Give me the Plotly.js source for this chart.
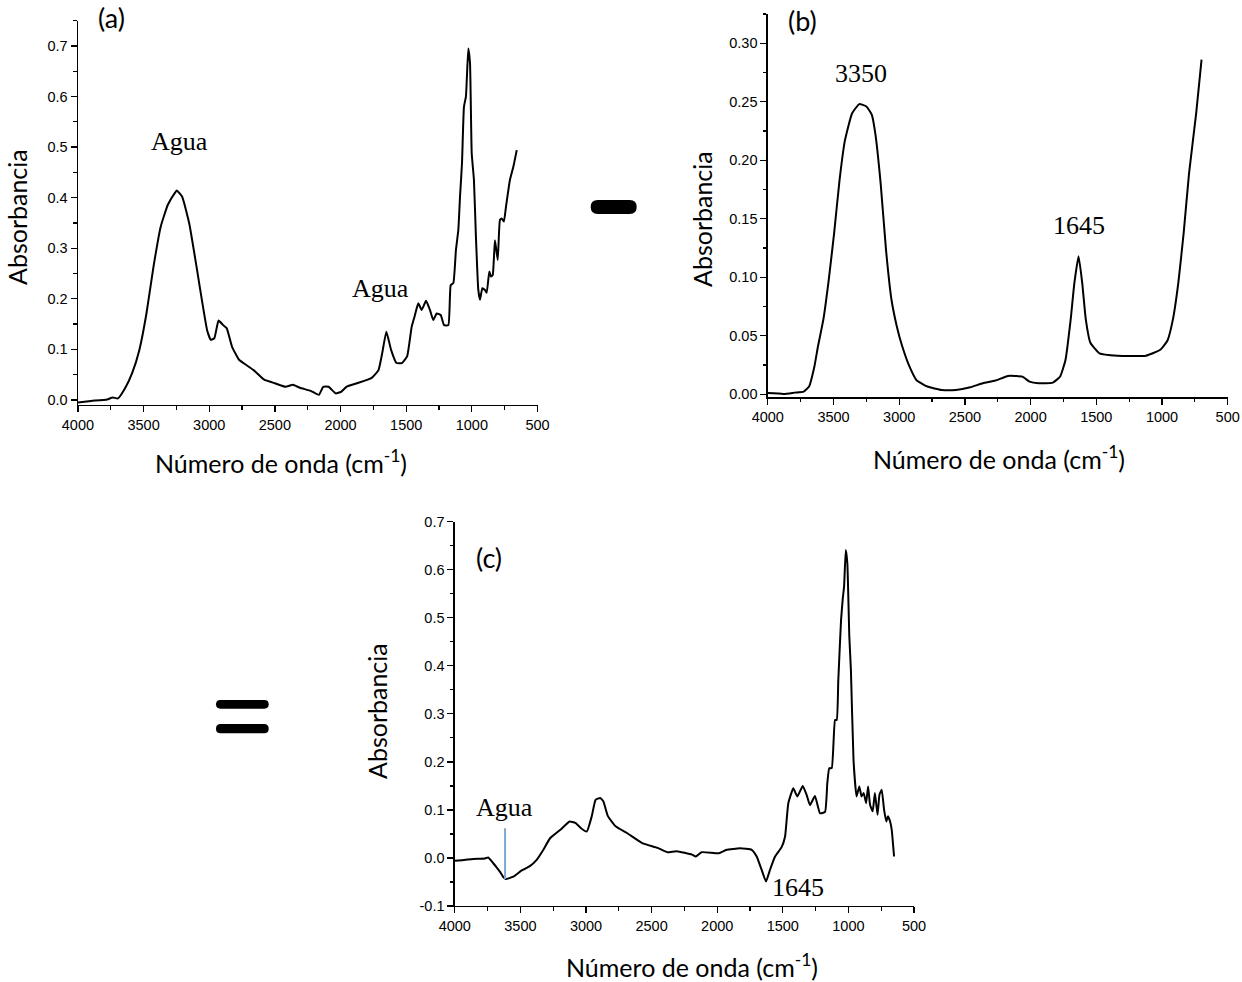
<!DOCTYPE html>
<html>
<head>
<meta charset="utf-8">
<script src="https://cdn.plot.ly/plotly-3.0.1.min.js"></script>
<style>
  html, body { margin: 0; padding: 0; background: #fff; }
  #chart { width: 1242px; height: 982px; }
</style>
</head>
<body>
<div id="chart"></div>
<script>
// (a) sample spectrum
const waveA = [4000, 3900, 3777, 3736, 3695, 3641, 3587, 3532, 3478, 3424, 3369, 3315, 3260, 3247, 3206, 3152,
  3097, 3056, 3016, 2988, 2961, 2929, 2894, 2867, 2826, 2771, 2717, 2662, 2581, 2500, 2418, 2363, 2309, 2227,
  2165, 2132, 2091, 2037, 1996, 1955, 1874, 1765, 1711, 1683, 1651, 1615, 1574, 1533, 1493, 1458, 1433, 1408,
  1382, 1349, 1319, 1294, 1268, 1237, 1212, 1179, 1161, 1141, 1121, 1103, 1090, 1075, 1060, 1045, 1027, 1014,
  1001, 984, 969, 951, 938, 920, 902, 887, 867, 854, 841, 824, 803, 786, 773, 756, 740, 722, 710, 684, 658];
const absA = [-0.005, -0.002, 0.001, 0.005, 0.003, 0.023, 0.053, 0.099, 0.171, 0.264, 0.343, 0.386, 0.410, 0.414, 0.402, 0.349,
  0.264, 0.198, 0.138, 0.119, 0.122, 0.157, 0.148, 0.142, 0.105, 0.079, 0.069, 0.059, 0.040, 0.033, 0.026, 0.030, 0.024, 0.018,
  0.010, 0.026, 0.026, 0.013, 0.016, 0.026, 0.033, 0.043, 0.059, 0.092, 0.135, 0.099, 0.073, 0.073, 0.086, 0.145, 0.168, 0.191,
  0.178, 0.196, 0.178, 0.158, 0.171, 0.168, 0.148, 0.148, 0.227, 0.231, 0.297, 0.336, 0.402, 0.468, 0.580, 0.600, 0.695, 0.666,
  0.488, 0.435, 0.323, 0.218, 0.198, 0.221, 0.218, 0.212, 0.254, 0.244, 0.247, 0.316, 0.277, 0.356, 0.359, 0.353, 0.382, 0.415, 0.435, 0.461, 0.494];

// (b) water spectrum
const waveB = [4000, 3877, 3795, 3727, 3686, 3645, 3618, 3577, 3536, 3495, 3454, 3413, 3359, 3304, 3250, 3209,
  3182, 3141, 3100, 3059, 3018, 2977, 2923, 2868, 2786, 2677, 2568, 2459, 2363, 2268, 2172, 2063, 2008, 1940,
  1831, 1776, 1735, 1695, 1667, 1635, 1607, 1580, 1545, 1476, 1340, 1122, 1013, 958, 917, 876, 835, 794, 740, 699];
const absB = [0.001, 0.0003, 0.0014, 0.0023, 0.0066, 0.024, 0.041, 0.064, 0.098, 0.138, 0.183, 0.217, 0.240, 0.248, 0.246, 0.239,
  0.223, 0.180, 0.123, 0.081, 0.058, 0.041, 0.024, 0.012, 0.0066, 0.0037, 0.0037, 0.006, 0.0094, 0.0117, 0.0157, 0.0151, 0.0108, 0.0094,
  0.010, 0.015, 0.029, 0.064, 0.095, 0.118, 0.095, 0.064, 0.044, 0.035, 0.033, 0.033, 0.038, 0.046, 0.064, 0.095, 0.138, 0.189, 0.240, 0.286];

// (c) difference spectrum
const waveC = [4000, 3859, 3770, 3745, 3707, 3680, 3655, 3630, 3612, 3554, 3490, 3428, 3376, 3325, 3274, 3198, 3125, 3081, 3038,
  2994, 2956, 2927, 2892, 2868, 2833, 2775, 2688, 2571, 2454, 2381, 2308, 2192, 2163, 2119, 1988, 1929, 1826,
  1737, 1699, 1661, 1628, 1598, 1559, 1508, 1483, 1458, 1420, 1389, 1348, 1318, 1293, 1255, 1216, 1178, 1161,
  1146, 1127, 1102, 1089, 1077, 1056, 1043, 1033, 1020, 1008, 993, 981, 961, 938, 917, 900, 883, 865, 850, 835,
  815, 798, 778, 763, 746, 728, 711, 699, 682, 670, 652];
const absC = [-0.006, -0.002, -0.001, 0.001, -0.011, -0.020, -0.029, -0.040, -0.044, -0.039, -0.026, -0.017, -0.004, 0.017, 0.041, 0.058, 0.076, 0.073, 0.062,
  0.055, 0.087, 0.121, 0.125, 0.118, 0.087, 0.066, 0.052, 0.031, 0.021, 0.012, 0.014, 0.007, 0.003, 0.012, 0.010, 0.017, 0.020,
  0.017, 0.003, -0.025, -0.049, -0.025, 0.003, 0.023, 0.044, 0.114, 0.145, 0.128, 0.150, 0.131, 0.110, 0.129, 0.093, 0.096, 0.155,
  0.187, 0.187, 0.287, 0.287, 0.370, 0.495, 0.540, 0.565, 0.641, 0.613, 0.461, 0.392, 0.204, 0.128, 0.149, 0.128, 0.135, 0.114, 0.149, 0.111,
  0.097, 0.135, 0.090, 0.132, 0.142, 0.100, 0.076, 0.087, 0.076, 0.059, 0.003];

const xTicks = [4000, 3500, 3000, 2500, 2000, 1500, 1000, 500];
const yTicksA = [0.0, 0.1, 0.2, 0.3, 0.4, 0.5, 0.6, 0.7];
const yTicksB = [0.00, 0.05, 0.10, 0.15, 0.20, 0.25, 0.30];
const yTicksC = [-0.1, 0.0, 0.1, 0.2, 0.3, 0.4, 0.5, 0.6, 0.7];

const xTitle = 'Número de onda (cm<sup>-1</sup>)';
const yTitle = 'Absorbancia';

const W = 1242, H = 982;
const px = v => v / W;
const py = v => 1 - v / H;

const tickFont = { family: 'Arial', size: 14.5, color: '#000' };
const sansFont = { family: 'Lato', size: 25, color: '#000' };
const panelFont = { family: 'Lato', size: 27, color: '#000' };
const serifFont = { family: 'Liberation Serif', size: 26, color: '#000' };

function xAxis(domain, anchor) {
  return {
    domain: domain, anchor: anchor, range: [4000, 500], autorange: false,
    tickmode: 'array', tickvals: xTicks, ticktext: xTicks.map(String),
    ticks: 'outside', ticklen: 6, tickwidth: 1.3, tickcolor: '#000',
    minor: { dtick: 250, ticks: 'outside', ticklen: 3.5, tickwidth: 1.2, tickcolor: '#000', showgrid: false },
    showline: true, linecolor: '#000', linewidth: 1.4, mirror: false,
    showgrid: false, zeroline: false, tickfont: tickFont
  };
}
function yAxis(domain, anchor, range, ticks, fmt, minorStep) {
  return {
    domain: domain, anchor: anchor, range: range, autorange: false,
    tickmode: 'array', tickvals: ticks, ticktext: ticks.map(v => v.toFixed(fmt)),
    ticks: 'outside', ticklen: 6, tickwidth: 1.3, tickcolor: '#000',
    minor: { dtick: minorStep, tick0: 0, ticks: 'outside', ticklen: 3.5, tickwidth: 1.2, tickcolor: '#000', showgrid: false },
    showline: true, linecolor: '#000', linewidth: 1.4, mirror: false,
    showgrid: false, zeroline: false, tickfont: tickFont
  };
}

const lineStyle = { color: '#000', width: 2, shape: 'spline', smoothing: 0.4 };

const data = [
  { x: waveA, y: absA, xaxis: 'x', yaxis: 'y', mode: 'lines', line: lineStyle, hoverinfo: 'skip' },
  { x: waveB, y: absB, xaxis: 'x2', yaxis: 'y2', mode: 'lines', line: lineStyle, hoverinfo: 'skip' },
  { x: waveC, y: absC, xaxis: 'x3', yaxis: 'y3', mode: 'lines', line: lineStyle, hoverinfo: 'skip' }
];

function label(text, x, y, font, extra) {
  return Object.assign({ text: text, xref: 'paper', yref: 'paper', x: px(x), y: py(y),
    xanchor: 'center', yanchor: 'middle', showarrow: false, font: font }, extra || {});
}

// rounded bar (pill) in pixel coordinates, converted to paper units
function pill(x0, y0, x1, y1) {
  const r = (y1 - y0) / 2;
  const pts = [
    'M', px(x0 + r), py(y0),
    'L', px(x1 - r), py(y0),
    'Q', px(x1), py(y0), px(x1), py(y0 + r),
    'Q', px(x1), py(y1), px(x1 - r), py(y1),
    'L', px(x0 + r), py(y1),
    'Q', px(x0), py(y1), px(x0), py(y0 + r),
    'Q', px(x0), py(y0), px(x0 + r), py(y0), 'Z'
  ];
  let d = '';
  for (let i = 0; i < pts.length; i++) {
    const p = pts[i];
    d += (typeof p === 'string') ? p : (p.toFixed(5) + ((typeof pts[i + 1] === 'number') ? ',' : ' '));
  }
  return { type: 'path', xref: 'paper', yref: 'paper', path: d, fillcolor: '#000', line: { width: 0 } };
}

const layout = {
  width: W, height: H,
  margin: { l: 0, r: 0, t: 0, b: 0 },
  paper_bgcolor: '#fff', plot_bgcolor: 'rgba(0,0,0,0)',
  showlegend: false,
  xaxis: xAxis([px(77.9), px(537.5)], 'y'),
  yaxis: yAxis([py(405), py(20.7)], 'x', [-0.01, 0.75], yTicksA, 1, 0.05),
  xaxis2: xAxis([px(767.8), px(1227.7)], 'y2'),
  yaxis2: yAxis([py(397.3), py(14)], 'x2', [-0.0026, 0.325], yTicksB, 2, 0.025),
  xaxis3: xAxis([px(454.8), px(914)], 'y3'),
  yaxis3: yAxis([py(906), py(521.7)], 'x3', [-0.1, 0.7], yTicksC, 1, 0.05),
  shapes: [
    // water band marker in (c)
    { type: 'line', xref: 'x3', yref: 'y3', x0: 3617, x1: 3617, y0: 0.062, y1: -0.044,
      line: { color: '#7fa7d4', width: 2 } },
    // operator signs between panels
    pill(590.7, 200, 636.7, 214),
    pill(216, 700, 268.7, 708.7),
    pill(216, 724, 268.7, 733.3)
  ],
  annotations: [
    label('(a)', 111, 18, panelFont),
    label('(b)', 802, 21, panelFont),
    label('(c)', 489, 557, panelFont),
    label('Agua', 179, 141, serifFont),
    label('Agua', 380, 289, serifFont),
    label('3350', 861, 74, serifFont),
    label('1645', 1079, 225, serifFont),
    label('Agua', 505, 807, serifFont),
    label('1645', 798, 887, serifFont),
    label(xTitle, 281, 461, sansFont),
    label(xTitle, 999, 458, sansFont),
    label(xTitle, 692, 965, sansFont),
    label(yTitle, 17, 217, sansFont, { textangle: -90 }),
    label(yTitle, 702, 219, sansFont, { textangle: -90 }),
    label(yTitle, 377, 711, sansFont, { textangle: -90 })
  ]
};

Plotly.newPlot('chart', data, layout, { staticPlot: true, displayModeBar: false });
</script>
</body>
</html>
